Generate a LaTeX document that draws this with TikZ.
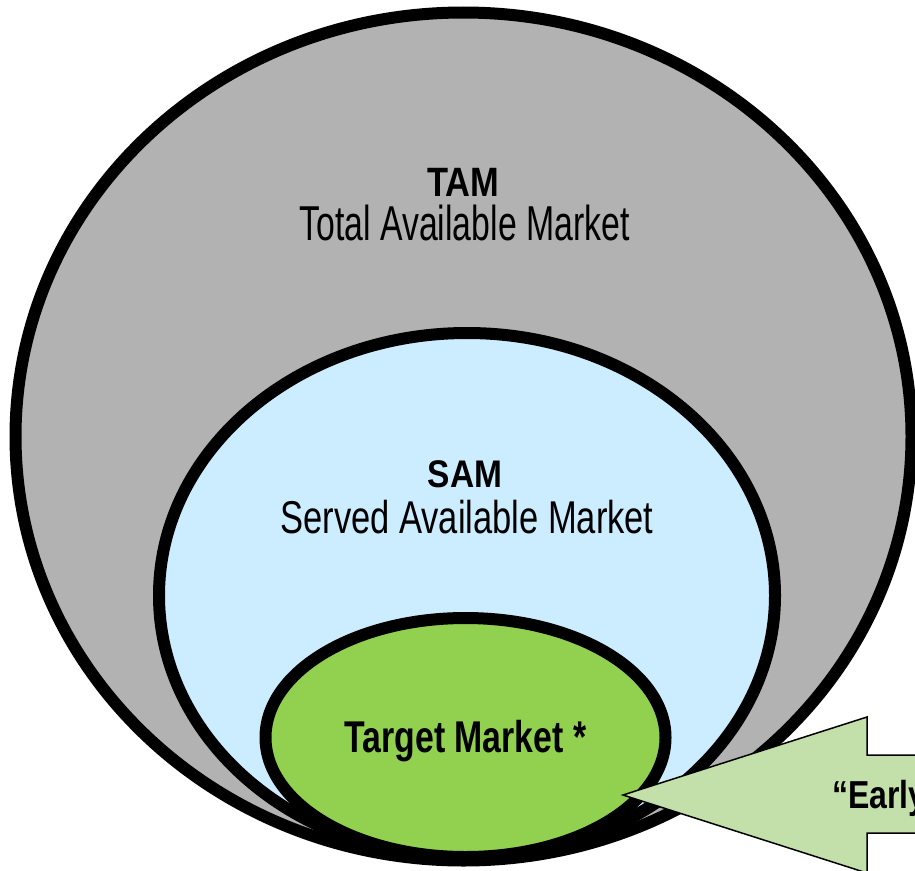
\documentclass[tikz,border=0pt]{standalone}
\usepackage{fontspec}
\usepackage{graphicx}
\setmainfont{Liberation Sans}
\usetikzlibrary{shapes.geometric}
\definecolor{tamgray}{RGB}{178,178,178}
\definecolor{samblue}{RGB}{204,236,255}
\definecolor{tgtgreen}{RGB}{146,208,80}
\definecolor{arrowgreen}{RGB}{196,224,170}
\tikzset{
  mkt/.style={ellipse, draw=black, line width=12pt, inner sep=0pt},
  lbl/.style={anchor=base, inner sep=0pt, text=black},
}
\begin{document}
\begin{tikzpicture}[x=1pt,y=-1pt]
\useasboundingbox (0,0) rectangle (915,870);
\clip (0,0) rectangle (915,870);
\node[mkt, fill=tamgray, minimum width=896pt, minimum height=848pt] (tam) at (463.5,436.5) {};
\node[mkt, fill=samblue, minimum width=616pt, minimum height=525pt] (sam) at (467,595.5) {};
\node[mkt, fill=tgtgreen, minimum width=400pt, minimum height=239pt] (tgt) at (465.5,737.5) {};
\coordinate (tip) at (623,795);
\draw[line width=1.5pt, fill=arrowgreen, line join=miter]
  (tip) -- (867,717) -- (867,755) -- (960,755) -- (960,833) -- (867,833) -- (867,873) -- cycle;
\node[lbl, font=\fontsize{41}{41}\selectfont\bfseries] (tamt) at (463.5,196) {\scalebox{0.84}[1]{TAM}};
\node[lbl, font=\fontsize{49}{49}\selectfont] (tamd) at (464.5,240) {\scalebox{0.69}[1]{Total Available Market}};
\node[lbl, font=\fontsize{38.5}{38.5}\selectfont\bfseries] (samt) at (465,487) {\scalebox{0.87}[1]{SAM}};
\node[lbl, font=\fontsize{46}{46}\selectfont] (samd) at (467,533) {\scalebox{0.75}[1]{Served Available Market}};
\node[lbl, font=\fontsize{44.5}{44.5}\selectfont\bfseries] (tgtt) at (465.5,752) {\scalebox{0.76}[1]{Target Market *}};
\node[lbl, anchor=base west, font=\fontsize{39}{39}\selectfont\bfseries] (early) at (832,808) {\scalebox{0.82}[1]{“Early Adopters”}};
\end{tikzpicture}
\end{document}
